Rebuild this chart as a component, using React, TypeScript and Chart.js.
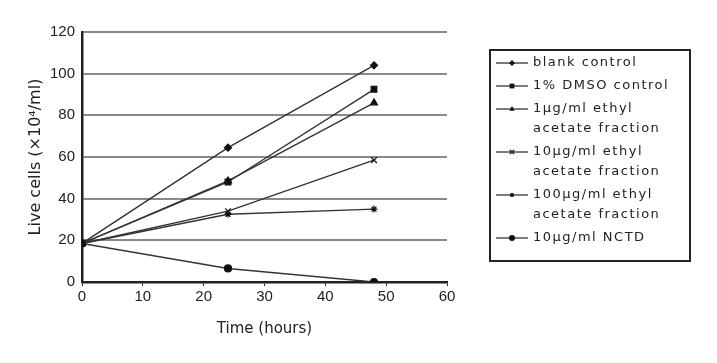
import React, { useEffect, useRef } from "react";
import { Chart, registerables } from "chart.js";

Chart.register(...registerables);

const hours = [0, 24, 48];
const blankControl = [18.5, 64.5, 104];
const dmsoControl = [18.5, 48, 92.5];
const ethyl1 = [18.5, 48.5, 86];
const ethyl10 = [18.5, 34, 58.5];
const ethyl100 = [18.5, 32.5, 35];
const nctd10 = [18.5, 6.5, 0];

const xTicks = [0, 10, 20, 30, 40, 50, 60];
const yTicks = [0, 20, 40, 60, 80, 100, 120];

const seriesNames: string[][] = [
  ["blank control"],
  ["1% DMSO control"],
  ["1\u03bcg/ml ethyl", "acetate fraction"],
  ["10\u03bcg/ml ethyl", "acetate fraction"],
  ["100\u03bcg/ml ethyl", "acetate fraction"],
  ["10\u03bcg/ml NCTD"],
];
const seriesValues = [blankControl, dmsoControl, ethyl1, ethyl10, ethyl100, nctd10];
const pointStyles = ["rectRot", "rect", "triangle", "crossRot", "star", "circle"];
const pointRadii = [3.5, 4, 4, 4, 3.5, 3.5];

function drawMarker(ctx: CanvasRenderingContext2D, style: string, x: number, y: number, r: number) {
  ctx.save();
  ctx.fillStyle = "#111";
  ctx.strokeStyle = "#111";
  ctx.lineWidth = 1.3;
  ctx.beginPath();
  if (style === "rectRot") {
    ctx.moveTo(x, y - r); ctx.lineTo(x + r, y); ctx.lineTo(x, y + r); ctx.lineTo(x - r, y); ctx.closePath(); ctx.fill();
  } else if (style === "rect") {
    ctx.rect(x - r * 0.8, y - r * 0.8, r * 1.6, r * 1.6); ctx.fill();
  } else if (style === "triangle") {
    ctx.moveTo(x, y - r); ctx.lineTo(x + r * 0.9, y + r * 0.6); ctx.lineTo(x - r * 0.9, y + r * 0.6); ctx.closePath(); ctx.fill();
  } else if (style === "crossRot") {
    ctx.moveTo(x - r * 0.7, y - r * 0.7); ctx.lineTo(x + r * 0.7, y + r * 0.7);
    ctx.moveTo(x + r * 0.7, y - r * 0.7); ctx.lineTo(x - r * 0.7, y + r * 0.7); ctx.stroke();
  } else if (style === "star") {
    ctx.rect(x - r * 0.6, y - r * 0.6, r * 1.2, r * 1.2); ctx.fill();
  } else {
    ctx.arc(x, y, r, 0, Math.PI * 2); ctx.fill();
  }
  ctx.restore();
}

const legendPlugin = {
  id: "boxLegend",
  afterDraw(chart: any) {
    const ctx: CanvasRenderingContext2D = chart.ctx;
    const left = 490, top = 50, right = 690, bottom = 261;
    ctx.save();
    ctx.strokeStyle = "#222";
    ctx.lineWidth = 2;
    ctx.strokeRect(left, top, right - left, bottom - top);
    ctx.font = '13px "DejaVu Sans"';
    (ctx as any).letterSpacing = "1.5px";
    ctx.fillStyle = "#222";
    ctx.textBaseline = "middle";
    ctx.textAlign = "left";
    let y = 63;
    const lineH = 20;
    const gap = 3;
    seriesNames.forEach((lines, i) => {
      ctx.strokeStyle = "#333";
      ctx.lineWidth = 1.3;
      ctx.beginPath();
      ctx.moveTo(496, y);
      ctx.lineTo(528, y);
      ctx.stroke();
      drawMarker(ctx, pointStyles[i], 512, y, 3);
      lines.forEach((t, j) => {
        ctx.fillText(t, 533, y + j * lineH);
      });
      y += lines.length * lineH + gap;
    });
    ctx.restore();
  },
};

export default function App() {
  const ref = useRef<HTMLCanvasElement>(null);
  useEffect(() => {
    if (!ref.current) return;
    const datasets = seriesValues.map((vals, i) => ({
      label: seriesNames[i].join(" "),
      data: hours.map((h, k) => ({ x: h, y: vals[k] })),
      borderColor: "#333",
      backgroundColor: "#111",
      borderWidth: 1.4,
      pointStyle: pointStyles[i] as any,
      pointRadius: pointRadii[i],
      pointBorderColor: "#111",
      pointBackgroundColor: "#111",
      pointBorderWidth: 1.2,
      tension: 0,
    }));
    const chart = new Chart(ref.current, {
      type: "line",
      data: { datasets },
      plugins: [legendPlugin],
      options: {
        responsive: false,
        animation: false,
        layout: { padding: { left: 0, top: 32, right: 270, bottom: 0 } },
        plugins: { legend: { display: false }, tooltip: { enabled: false } },
        scales: {
          x: {
            type: "linear",
            min: 0,
            max: 60,
            afterBuildTicks: (s: any) => { s.ticks = xTicks.map((v) => ({ value: v })); },
            afterFit: (s: any) => { s.height = 81; },
            ticks: {
              color: "#222",
              font: { family: '"Liberation Sans"', size: 15 },
              padding: 2,
              maxRotation: 0,
            },
            grid: { drawOnChartArea: false, color: "#222", tickLength: 4, lineWidth: 1 },
            border: { display: true, color: "#222", width: 2.5 },
            title: {
              display: true,
              text: "Time (hours)",
              color: "#222",
              font: { family: '"DejaVu Sans"', size: 15 },
              padding: { top: 6, bottom: 25 },
            },
          },
          y: {
            type: "linear",
            min: 0,
            max: 120,
            afterBuildTicks: (s: any) => { s.ticks = yTicks.map((v) => ({ value: v })); },
            afterFit: (s: any) => { s.width = 82; },
            ticks: {
              color: "#222",
              font: { family: '"Liberation Sans"', size: 15 },
              padding: 7,
            },
            grid: { color: "#8a8a8a", lineWidth: 2, drawTicks: false },
            border: { display: true, color: "#222", width: 2.5 },
            title: {
              display: true,
              text: "Live cells (\u00d710\u2074/ml)",
              color: "#222",
              font: { family: '"DejaVu Sans"', size: 16 },
              padding: { top: 26, bottom: 0 },
            },
          },
        },
      },
    });
    return () => chart.destroy();
  }, []);
  return (
    <div style={{ position: "absolute", left: 0, top: 0, width: 717, height: 363, background: "#fff" }}>
      <canvas ref={ref} width={717} height={363} style={{ width: 717, height: 363 }} />
    </div>
  );
}
